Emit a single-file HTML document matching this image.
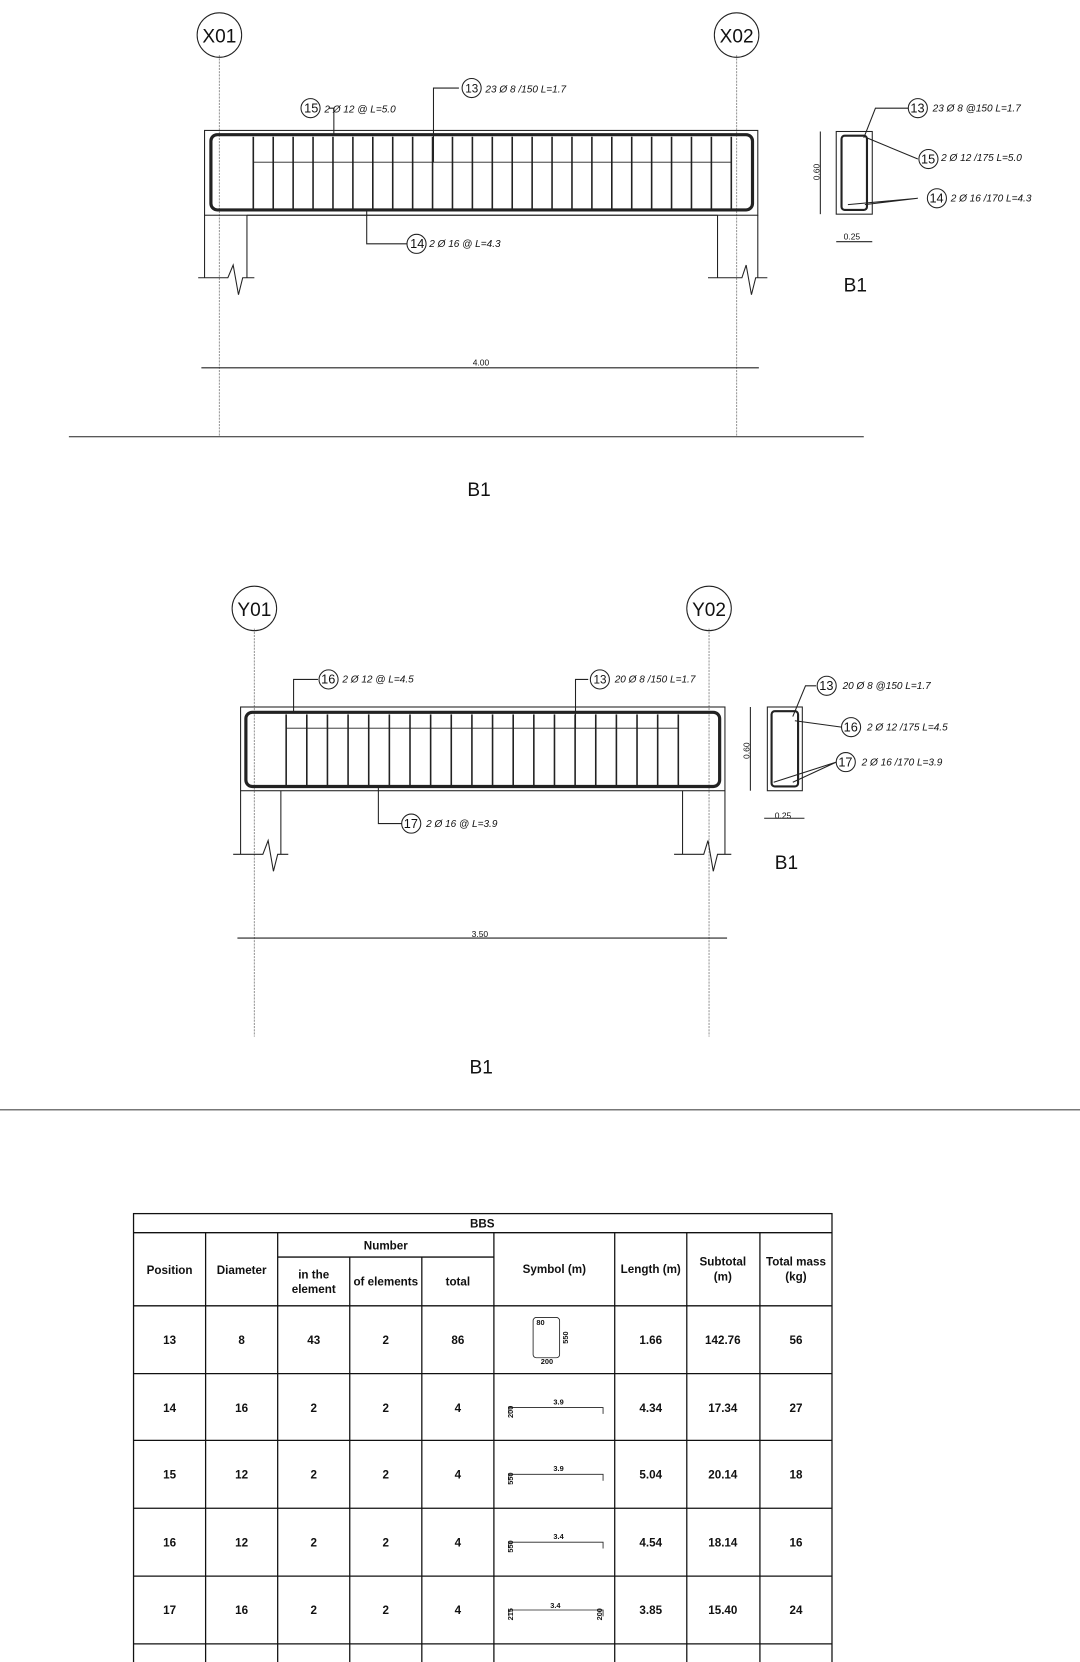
<!DOCTYPE html>
<html><head><meta charset="utf-8"><style>
html,body{margin:0;padding:0;background:#fff}
svg{display:block}
text{font-family:"Liberation Sans",Arial,sans-serif;fill:#111}
.it{font-style:italic;font-size:9.5px}
.t{font-size:11px;font-weight:bold;text-anchor:middle}
.g{font-style:normal;font-size:18px;text-anchor:middle}
</style></head><body>
<svg id="s" width="1080" height="1662" viewBox="0 0 1019 1568" xmlns="http://www.w3.org/2000/svg">
<g stroke="#222" fill="none" stroke-width="1">
<line x1="207" y1="52" x2="207" y2="412" stroke="#999" stroke-dasharray="2,1"/>
<line x1="695" y1="52" x2="695" y2="412" stroke="#999" stroke-dasharray="2,1"/>
<circle cx="207" cy="33" r="21"/><circle cx="695" cy="33" r="21"/>
<rect x="193" y="123" width="522" height="80"/>
<rect x="199" y="127" width="511" height="71" rx="6" stroke-width="3"/>
<line x1="239" y1="153" x2="690" y2="153" stroke-width="0.8"/>
<g id="st1" stroke-width="1.5"></g>
<line x1="193" y1="203" x2="193" y2="262"/><line x1="233" y1="203" x2="233" y2="262"/>
<line x1="233" y1="203" x2="677" y2="203"/>
<line x1="677" y1="203" x2="677" y2="262"/><line x1="715" y1="203" x2="715" y2="262"/>
<path d="M187 262H215L220 250L225 278L229 262H240"/>
<path d="M668 262H700L704 250L709 278L713 262H724"/>
<line x1="190" y1="347" x2="716" y2="347"/>
<line x1="65" y1="412" x2="815" y2="412"/>
<path d="M310 102H315V126"/><path d="M433 83H409V153"/><path d="M346 197V230H384"/>
<circle cx="293" cy="102" r="9"/><circle cx="445" cy="83" r="9"/><circle cx="393" cy="230" r="9"/>
<rect x="789" y="124" width="34" height="78"/>
<rect x="794" y="128" width="24" height="70" rx="3" stroke-width="2"/>
<line x1="774" y1="124" x2="774" y2="202"/><line x1="789" y1="228" x2="823" y2="228"/>
<path d="M857 102H826L815 130M866 150L818 130M866 187L800 193M866 187L816 193"/>
<circle cx="866" cy="102" r="9"/><circle cx="876" cy="150" r="9"/><circle cx="884" cy="187" r="9"/>
<line x1="240" y1="593" x2="240" y2="978" stroke="#999" stroke-dasharray="2,1"/>
<line x1="669" y1="593" x2="669" y2="978" stroke="#999" stroke-dasharray="2,1"/>
<circle cx="240" cy="574" r="21"/><circle cx="669" cy="574" r="21"/>
<rect x="227" y="667" width="457" height="79"/>
<rect x="232" y="672" width="447" height="70" rx="6" stroke-width="3"/>
<line x1="270" y1="687" x2="640" y2="687" stroke-width="0.8"/>
<g id="st2" stroke-width="1.5"></g>
<line x1="227" y1="746" x2="227" y2="806"/><line x1="265" y1="746" x2="265" y2="806"/>
<line x1="644" y1="746" x2="644" y2="806"/><line x1="684" y1="746" x2="684" y2="806"/>
<path d="M220 806H248L253 793L258 822L262 806H272"/>
<path d="M636 806H664L668 793L673 822L677 806H690"/>
<line x1="224" y1="885" x2="686" y2="885"/>
<line x1="0" y1="1047" x2="1019" y2="1047" stroke="#777" stroke-width="1.5"/>
<path d="M300 641H277V672"/><path d="M555 641H543V687"/><path d="M357 742V777H379"/>
<circle cx="310" cy="641" r="9"/><circle cx="566" cy="641" r="9"/><circle cx="388" cy="777" r="9"/>
<rect x="724" y="667" width="33" height="79"/>
<rect x="728" y="671" width="25" height="71" rx="3" stroke-width="2"/>
<line x1="708" y1="667" x2="708" y2="746"/><line x1="721" y1="772" x2="759" y2="772"/>
<path d="M770 647H760L748 676M794 686L750 680M789 719L730 738M789 719L748 738"/>
<circle cx="780" cy="647" r="9"/><circle cx="803" cy="686" r="9"/><circle cx="798" cy="719" r="9"/>
<g stroke="#111" stroke-width="1.2">
<rect x="126" y="1145" width="659" height="440"/>
<line x1="126" y1="1163" x2="785" y2="1163"/>
<line x1="262" y1="1186" x2="466" y2="1186"/>
<line x1="126" y1="1232" x2="785" y2="1232"/>
<line x1="126" y1="1296" x2="785" y2="1296"/>
<line x1="126" y1="1359" x2="785" y2="1359"/>
<line x1="126" y1="1423" x2="785" y2="1423"/>
<line x1="126" y1="1487" x2="785" y2="1487"/>
<line x1="126" y1="1551" x2="785" y2="1551"/>
<line x1="194" y1="1163" x2="194" y2="1585"/>
<line x1="262" y1="1163" x2="262" y2="1585"/>
<line x1="330" y1="1186" x2="330" y2="1585"/>
<line x1="398" y1="1186" x2="398" y2="1585"/>
<line x1="466" y1="1163" x2="466" y2="1585"/>
<line x1="580" y1="1163" x2="580" y2="1585"/>
<line x1="648" y1="1163" x2="648" y2="1585"/>
<line x1="717" y1="1163" x2="717" y2="1585"/>
</g>
<g stroke-width="0.8">
<rect x="503" y="1243" width="25" height="38" rx="3"/>
<path d="M480 1334V1328H569V1334M480 1397V1391H569V1397M480 1461V1455H569V1461M480 1525V1519H569V1525"/>
</g>
</g>
<g class="it">
<text class="g" x="207" y="40">X01</text>
<text class="g" x="695" y="40">X02</text>
<text class="g" x="240" y="581">Y01</text>
<text class="g" x="669" y="581">Y02</text>
<text x="287" y="106" font-style="normal" font-size="12">15</text>
<text x="439" y="87" font-style="normal" font-size="11">13</text>
<text x="387" y="234" font-style="normal" font-size="12">14</text>
<text x="306" y="106">2 Ø 12 @ L=5.0</text>
<text x="458" y="87">23 Ø 8 /150 L=1.7</text>
<text x="405" y="233">2 Ø 16 @ L=4.3</text>
<text x="446" y="345" font-style="normal" font-size="8">4.00</text>
<text x="859" y="106" font-style="normal" font-size="12">13</text>
<text x="869" y="154" font-style="normal" font-size="12">15</text>
<text x="877" y="191" font-style="normal" font-size="12">14</text>
<text x="880" y="105">23 Ø 8 @150 L=1.7</text>
<text x="888" y="152">2 Ø 12 /175 L=5.0</text>
<text x="897" y="190">2 Ø 16 /170 L=4.3</text>
<text x="796" y="226" font-style="normal" font-size="8">0.25</text>
<text x="773" y="170" font-style="normal" font-size="8" transform="rotate(-90 773 170)">0.60</text>
<text x="796" y="275" font-style="normal" font-size="18">B1</text>
<text x="441" y="468" font-style="normal" font-size="18">B1</text>
<text x="303" y="645" font-style="normal" font-size="12">16</text>
<text x="560" y="645" font-style="normal" font-size="11">13</text>
<text x="381" y="781" font-style="normal" font-size="12">17</text>
<text x="323" y="644">2 Ø 12 @ L=4.5</text>
<text x="580" y="644">20 Ø 8 /150 L=1.7</text>
<text x="402" y="780">2 Ø 16 @ L=3.9</text>
<text x="445" y="884" font-style="normal" font-size="8">3.50</text>
<text x="773" y="651" font-style="normal" font-size="12">13</text>
<text x="796" y="690" font-style="normal" font-size="12">16</text>
<text x="791" y="723" font-style="normal" font-size="12">17</text>
<text x="795" y="650">20 Ø 8 @150 L=1.7</text>
<text x="818" y="689">2 Ø 12 /175 L=4.5</text>
<text x="813" y="722">2 Ø 16 /170 L=3.9</text>
<text x="731" y="772" font-style="normal" font-size="8">0.25</text>
<text x="707" y="716" font-style="normal" font-size="8" transform="rotate(-90 707 716)">0.60</text>
<text x="731" y="820" font-style="normal" font-size="18">B1</text>
<text x="443" y="1013" font-style="normal" font-size="18">B1</text>
</g>
<g class="t">
<text x="455" y="1158">BBS</text>
<text x="364" y="1179">Number</text>
<text x="160" y="1202">Position</text><text x="228" y="1202">Diameter</text>
<text x="296" y="1206">in the</text><text x="296" y="1220">element</text>
<text x="364" y="1213">of elements</text><text x="432" y="1213">total</text>
<text x="523" y="1201">Symbol (m)</text><text x="614" y="1201">Length (m)</text>
<text x="682" y="1194">Subtotal</text><text x="682" y="1208">(m)</text>
<text x="751" y="1194">Total mass</text><text x="751" y="1208">(kg)</text>
<text x="160" y="1268">13</text><text x="228" y="1268">8</text><text x="296" y="1268">43</text><text x="364" y="1268">2</text><text x="432" y="1268">86</text><text x="614" y="1268">1.66</text><text x="682" y="1268">142.76</text><text x="751" y="1268">56</text>
<text x="160" y="1332">14</text><text x="228" y="1332">16</text><text x="296" y="1332">2</text><text x="364" y="1332">2</text><text x="432" y="1332">4</text><text x="614" y="1332">4.34</text><text x="682" y="1332">17.34</text><text x="751" y="1332">27</text>
<text x="160" y="1395">15</text><text x="228" y="1395">12</text><text x="296" y="1395">2</text><text x="364" y="1395">2</text><text x="432" y="1395">4</text><text x="614" y="1395">5.04</text><text x="682" y="1395">20.14</text><text x="751" y="1395">18</text>
<text x="160" y="1459">16</text><text x="228" y="1459">12</text><text x="296" y="1459">2</text><text x="364" y="1459">2</text><text x="432" y="1459">4</text><text x="614" y="1459">4.54</text><text x="682" y="1459">18.14</text><text x="751" y="1459">16</text>
<text x="160" y="1523">17</text><text x="228" y="1523">16</text><text x="296" y="1523">2</text><text x="364" y="1523">2</text><text x="432" y="1523">4</text><text x="614" y="1523">3.85</text><text x="682" y="1523">15.40</text><text x="751" y="1523">24</text>
<g style="font-size:7px">
<text x="510" y="1250">80</text><text x="516" y="1287">200</text>
<text x="527" y="1325">3.9</text><text x="527" y="1388">3.9</text><text x="527" y="1452">3.4</text><text x="524" y="1517">3.4</text>
<text x="536" y="1262" transform="rotate(-90 536 1262)">550</text>
<text x="484" y="1332" transform="rotate(-90 484 1332)">200</text>
<text x="484" y="1395" transform="rotate(-90 484 1395)">550</text>
<text x="484" y="1459" transform="rotate(-90 484 1459)">550</text>
<text x="484" y="1523" transform="rotate(-90 484 1523)">215</text>
<text x="568" y="1523" transform="rotate(-90 568 1523)">200</text>
</g>
</g>
</svg>
<script>
(function(){var n="http://www.w3.org/2000/svg";
function st(id,x0,x1,c,y0,y1){var g=document.getElementById(id);for(var i=0;i<c;i++){var x=x0+(x1-x0)*i/(c-1);var l=document.createElementNS(n,"line");l.setAttribute("x1",x);l.setAttribute("x2",x);l.setAttribute("y1",y0);l.setAttribute("y2",y1);g.appendChild(l);}}
st("st1",239,690,25,129,197);st("st2",270,640,20,674,741);})();
</script>
</body></html>
